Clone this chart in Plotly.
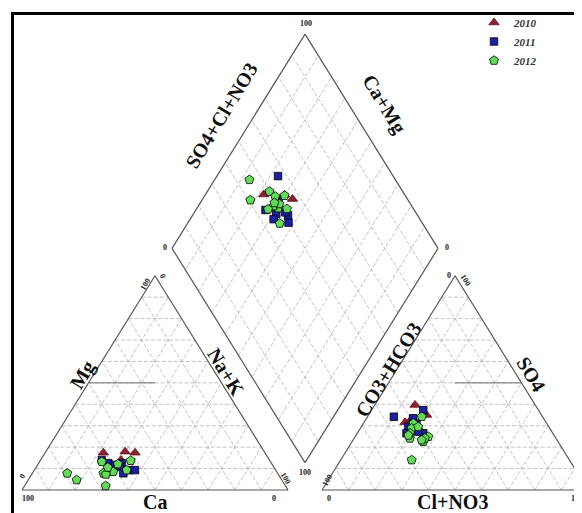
import numpy as np
import plotly.graph_objects as go

# ---------------- data (percent of meq) ----------------
years = ["2010", "2011", "2012"]

mg_2010 = [17.4, 17.9, 17.4, 14.0]
nak_2010 = [21.9, 29.8, 33.8, 30.2]
so4_2010 = [31.6, 39.7, 35.0, 33.0]
cl_2010 = [15.4, 15.1, 21.8, 17.0]

mg_2011 = [14.0, 12.5, 11.7, 12.5, 10.9, 9.3, 9.3, 7.8]
nak_2011 = [23.0, 26.2, 29.1, 31.2, 31.4, 35.9, 37.8, 34.2]
so4_2011 = [37.3, 34.2, 33.5, 29.5, 26.5, 26.5, 27.2, 31.0]
cl_2011 = [19.4, 9.9, 17.5, 17.7, 18.5, 24.8, 22.6, 20.0]

mg_2012 = [7.8, 4.7, 1.9, 13.2, 13.7, 9.3, 9.3, 7.8, 8.5, 7.3, 12.1, 10.5]
nak_2012 = [13.1, 18.2, 30.5, 23.4, 34.0, 28.4, 34.7, 26.7, 30.0, 27.9, 30.0, 27.0]
so4_2012 = [24.1, 14.0, 22.5, 31.1, 24.9, 28.8, 26.5, 29.5, 24.1, 23.3, 34.2, 25.5]
cl_2012 = [21.0, 26.7, 26.8, 18.8, 27.5, 19.3, 19.8, 21.4, 26.6, 25.8, 20.4, 19.7]

# ---------------- layout / geometry ----------------
PAGE_W, PAGE_H = 582, 513
OFF = 8                                   # default body margin of the html page
W, H = PAGE_W - OFF, PAGE_H - OFF         # figure size
X0_PX, Y0_PX = 22.0, 490.0                # page pixel of the Ca=100 corner
SX, SY = 2.66, 2.474
GAP = 12.8
H3 = np.sqrt(3) / 2
RX = 100 + GAP                      # x-offset of anion triangle
BX, BY = 100 + GAP / 2, GAP * H3    # bottom vertex of diamond


def xr(px):
    return (px - X0_PX) / SX


def yr(py):
    return (Y0_PX - py) / SY


def cation_xy(mg, nak):
    mg, nak = np.asarray(mg), np.asarray(nak)
    return nak + mg / 2, mg * H3


def anion_xy(so4, cl):
    so4, cl = np.asarray(so4), np.asarray(cl)
    return RX + cl + so4 / 2, so4 * H3


def diamond_xy(a, ca):
    a, ca = np.asarray(a, dtype=float), np.asarray(ca, dtype=float)
    return BX + 0.5 * (a - ca), BY + H3 * (a + ca)


def segs(seglist):
    xs, ys = [], []
    for (x1, y1), (x2, y2) in seglist:
        xs += [x1, x2, None]
        ys += [y1, y2, None]
    return xs, ys


grid = []
for ox in (0, RX):
    for i in range(1, 10):
        t = 10 * i
        grid.append(((ox + t / 2, t * H3), (ox + 100 - t / 2, t * H3)))
        grid.append(((ox + t, 0), (ox + t + (100 - t) / 2, (100 - t) * H3)))
        grid.append(((ox + t, 0), (ox + t / 2, t * H3)))
for i in range(1, 10):
    t = 10 * i
    p1 = diamond_xy(t, 0); p2 = diamond_xy(t, 100)
    grid.append(((float(p1[0]), float(p1[1])), (float(p2[0]), float(p2[1]))))
    p1 = diamond_xy(0, t); p2 = diamond_xy(100, t)
    grid.append(((float(p1[0]), float(p1[1])), (float(p2[0]), float(p2[1]))))

outline = []
for ox in (0, RX):
    outline += [((ox, 0), (ox + 100, 0)), ((ox + 100, 0), (ox + 50, 100 * H3)),
                ((ox + 50, 100 * H3), (ox, 0))]
dv = [diamond_xy(0, 0), diamond_xy(100, 0), diamond_xy(100, 100), diamond_xy(0, 100)]
dv = [(float(p[0]), float(p[1])) for p in dv]
for k in range(4):
    outline.append((dv[k], dv[(k + 1) % 4]))

half = [((25, 50 * H3), (50, 50 * H3)), ((RX + 50, 50 * H3), (RX + 75, 50 * H3))]

fig = go.Figure()
gx, gy = segs(grid)
fig.add_trace(go.Scatter(x=gx, y=gy, mode="lines", hoverinfo="skip", showlegend=False,
                         line=dict(color="#b4b4b4", width=0.8, dash="4px,2px")))
hx, hy = segs(half)
fig.add_trace(go.Scatter(x=hx, y=hy, mode="lines", hoverinfo="skip", showlegend=False,
                         line=dict(color="#707070", width=1)))
ox_, oy_ = segs(outline)
fig.add_trace(go.Scatter(x=ox_, y=oy_, mode="lines", hoverinfo="skip", showlegend=False,
                         line=dict(color="#555555", width=1.2)))

series = [
    ("2010", mg_2010, nak_2010, so4_2010, cl_2010, "triangle-up", "#8e2030", 9, "#5a1018"),
    ("2011", mg_2011, nak_2011, so4_2011, cl_2011, "square", "#1c20a8", 7.5, "#000000"),
    ("2012", mg_2012, nak_2012, so4_2012, cl_2012, "pentagon", "#62dc58", 9.5, "#000000"),
]
for name, mg, nak, so4, cl, sym, col, size, lcol in series:
    cx, cy = cation_xy(mg, nak)
    axx, ayy = anion_xy(so4, cl)
    a = np.asarray(so4) + np.asarray(cl)
    ca = 100 - np.asarray(nak)
    dx, dy = diamond_xy(a, ca)
    xs = list(cx) + [None] + list(axx) + [None] + list(dx)
    ys = list(cy) + [None] + list(ayy) + [None] + list(dy)
    fig.add_trace(go.Scatter(
        x=xs, y=ys, mode="markers", name=name,
        marker=dict(symbol=sym, color=col, size=size, line=dict(color=lcol, width=0.8)),
    ))

SERIF = "Liberation Serif"
ann = []


def add_text(text, px, py, angle=0, size=8, color="#222222"):
    ann.append(dict(text=f"<b>{text}</b>", x=(px - OFF) / W, y=1 - (py - OFF) / H,
                    xref="paper", yref="paper",
                    showarrow=False, textangle=angle, xanchor="center", yanchor="middle",
                    font=dict(family=SERIF, size=size, color=color)))


ANG = 58.5
TS = 20
# axis titles
add_text("Mg", 82, 375, -ANG, TS, "#111111")
add_text("Na+K", 226, 372, ANG, TS, "#111111")
add_text("Ca", 155, 502, 0, TS, "#111111")
add_text("SO4+Cl+NO3", 221, 116, -ANG, TS, "#111111")
add_text("Ca+Mg", 384, 105, ANG, TS, "#111111")
add_text("CO3+HCO3", 388, 370, -ANG, TS, "#111111")
add_text("SO4", 531, 374, ANG, TS, "#111111")
add_text("Cl+NO3", 452, 502, 0, TS, "#111111")
# tick labels
add_text("100", 28, 498)
add_text("0", 274, 498)
add_text("0", 22, 476, -ANG)
add_text("100", 145, 284, -ANG)
add_text("0", 163, 276, ANG)
add_text("100", 286, 478, ANG)
add_text("0", 329, 498)
add_text("100", 577, 498)
add_text("100", 327, 480, -ANG)
add_text("0", 449, 275)
add_text("100", 466, 280, ANG)
add_text("100", 306, 23)
add_text("0", 165, 247)
add_text("0", 447, 247)
add_text("100", 305, 472)

shapes = [
    dict(type="line", xref="paper", yref="paper", x0=(12 - OFF) / W, x1=1,
         y0=1 - (13.5 - OFF) / H, y1=1 - (13.5 - OFF) / H,
         line=dict(color="black", width=3)),
    dict(type="line", xref="paper", yref="paper", x0=(12.5 - OFF) / W, x1=(12.5 - OFF) / W,
         y0=1 - (12 - OFF) / H, y1=0,
         line=dict(color="black", width=3)),
]

fig.update_layout(
    width=W, height=H, margin=dict(l=0, r=0, t=0, b=0),
    paper_bgcolor="white", plot_bgcolor="white",
    xaxis=dict(range=[xr(OFF), xr(PAGE_W)], visible=False, fixedrange=True),
    yaxis=dict(range=[yr(PAGE_H), yr(OFF)], visible=False, fixedrange=True),
    annotations=ann, shapes=shapes,
    legend=dict(x=(474 - OFF) / W, y=1 - (8 - OFF) / H, xanchor="left", yanchor="top",
                bgcolor="rgba(0,0,0,0)", itemwidth=30, tracegroupgap=0,
                font=dict(family=SERIF, size=11, color="#333333", weight="bold", style="italic")),
    showlegend=True,
)

fig.write_html("out.html")
